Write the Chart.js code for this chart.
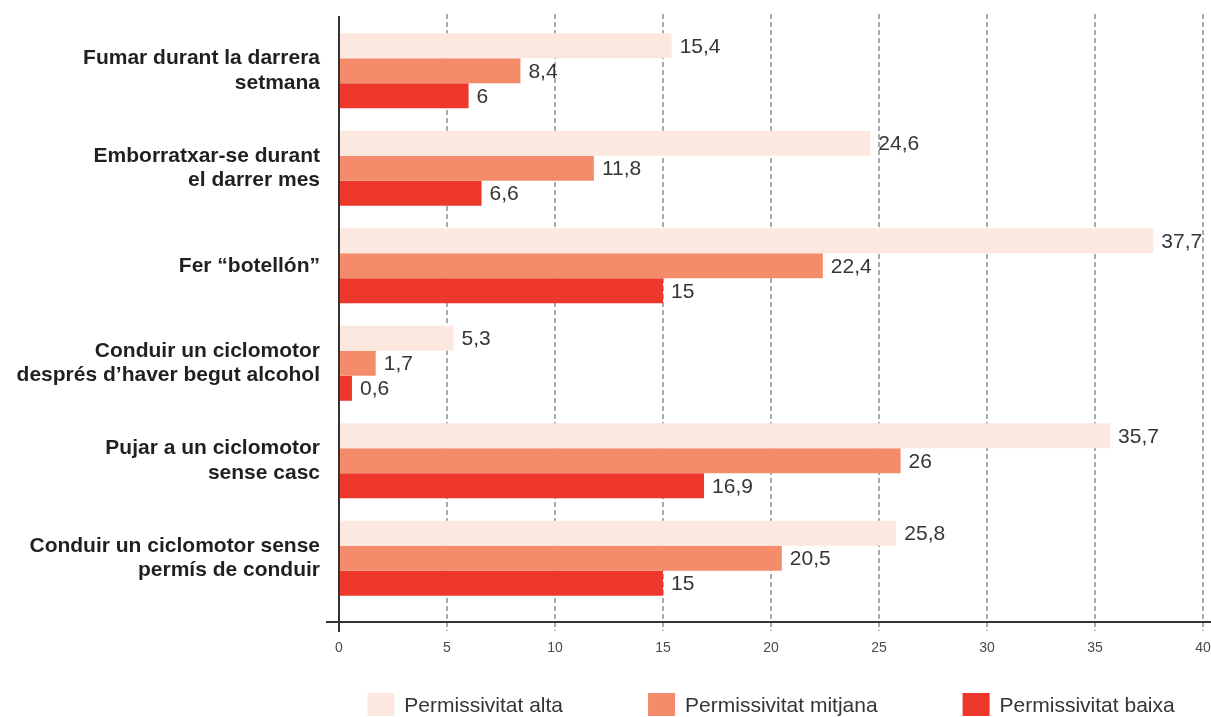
<!DOCTYPE html>
<html>
<head>
<meta charset="utf-8">
<script src="https://cdn.jsdelivr.net/npm/chart.js@4.4.1/dist/chart.umd.min.js"></script>
<style>
  html, body { margin: 0; padding: 0; background: #fff; }
</style>
</head>
<body>
<canvas id="chart" width="1211" height="717"></canvas>
<script>
// --- data ---
const categories = [
  ['Fumar durant la darrera', 'setmana'],
  ['Emborratxar-se durant', 'el darrer mes'],
  ['Fer “botellón”'],
  ['Conduir un ciclomotor', 'després d’haver begut alcohol'],
  ['Pujar a un ciclomotor', 'sense casc'],
  ['Conduir un ciclomotor sense', 'permís de conduir']
];
const seriesNames = ['Permissivitat alta', 'Permissivitat mitjana', 'Permissivitat baixa'];
const alta = [15.4, 24.6, 37.7, 5.3, 35.7, 25.8];
const mitjana = [8.4, 11.8, 22.4, 1.7, 26, 20.5];
const baixa = [6, 6.6, 15, 0.6, 16.9, 15];
const xTicks = [0, 5, 10, 15, 20, 25, 30, 35, 40];

const colors = ['#fde8e0', '#f48c6c', '#ee372b'];
const fmt = v => String(v).replace('.', ',');

// gridlines, axis lines, value labels and legend
const decor = {
  id: 'decor',
  beforeDatasetsDraw(chart) {
    const { ctx, chartArea: a, scales: { x } } = chart;
    ctx.save();
    ctx.strokeStyle = '#8f8f8f';
    ctx.lineWidth = 1.5;
    ctx.setLineDash([5, 3]);
    xTicks.forEach(v => {
      if (v === 0) return;
      const px = Math.round(x.getPixelForValue(v));
      ctx.beginPath();
      ctx.moveTo(px, a.top - 8);
      ctx.lineTo(px, a.bottom + 24);
      ctx.stroke();
    });
    ctx.restore();
  },
  afterDatasetsDraw(chart) {
    const { ctx, chartArea: a, scales: { x } } = chart;
    const x0 = Math.round(x.getPixelForValue(0));
    ctx.save();
    ctx.strokeStyle = '#333';
    ctx.lineWidth = 2;
    ctx.beginPath();
    ctx.moveTo(x0, a.top - 6);
    ctx.lineTo(x0, a.bottom + 25);
    ctx.moveTo(x0 - 13, a.bottom + 15);
    ctx.lineTo(chart.width, a.bottom + 15);
    ctx.stroke();

    ctx.fillStyle = '#353535';
    ctx.font = '21px "Liberation Sans", Arial, sans-serif';
    ctx.textBaseline = 'middle';
    ctx.textAlign = 'left';
    chart.data.datasets.forEach((ds, i) => {
      chart.getDatasetMeta(i).data.forEach((bar, j) => {
        ctx.fillText(fmt(ds.data[j]), bar.x + 8, bar.y + 1);
      });
    });

    // legend
    ctx.font = '21px "Liberation Sans", Arial, sans-serif';
    const boxW = 27, boxH = 23, gapText = 10, gapItem = 85;
    const items = chart.data.datasets.map(ds => ({
      label: ds.label, color: ds.backgroundColor, w: ctx.measureText(ds.label).width
    }));
    const total = items.reduce((s, it) => s + boxW + gapText + it.w, 0) + gapItem * (items.length - 1);
    let lx = (a.left + a.right) / 2 - total / 2;
    const ly = 693;
    items.forEach(it => {
      ctx.fillStyle = it.color;
      ctx.fillRect(lx, ly, boxW, boxH);
      ctx.fillStyle = '#353535';
      ctx.fillText(it.label, lx + boxW + gapText, ly + boxH / 2 + 2);
      lx += boxW + gapText + it.w + gapItem;
    });
    ctx.restore();
  }
};

new Chart(document.getElementById('chart'), {
  type: 'bar',
  data: {
    labels: categories,
    datasets: [alta, mitjana, baixa].map((d, i) => ({
      label: seriesNames[i],
      data: d,
      backgroundColor: colors[i],
      borderWidth: 0,
      categoryPercentage: 0.77,
      barPercentage: 1
    }))
  },
  options: {
    indexAxis: 'y',
    responsive: false,
    animation: false,
    layout: { padding: { top: 22, right: 8, left: 0, bottom: 0 } },
    plugins: {
      legend: { display: false },
      tooltip: { enabled: false }
    },
    scales: {
      x: {
        min: 0,
        max: 40,
        grid: { display: false, drawTicks: false },
        border: { display: false },
        afterBuildTicks: s => { s.ticks = xTicks.map(v => ({ value: v })); },
        afterFit: s => { s.height = 110; s.paddingLeft = 0; s.paddingRight = 0; },
        ticks: {
          padding: 33,
          color: '#4a4a4a',
          font: { family: '"Liberation Sans", Arial, sans-serif', size: 14 }
        }
      },
      y: {
        grid: { display: false, drawTicks: false },
        border: { display: false },
        afterFit: s => { s.width = 339; s.paddingTop = 0; s.paddingBottom = 0; },
        ticks: {
          padding: 19,
          color: '#231f20',
          font: { family: '"Liberation Sans", Arial, sans-serif', size: 21, weight: 'bold', lineHeight: 1.15 }
        }
      }
    }
  },
  plugins: [decor]
});
</script>
</body>
</html>
